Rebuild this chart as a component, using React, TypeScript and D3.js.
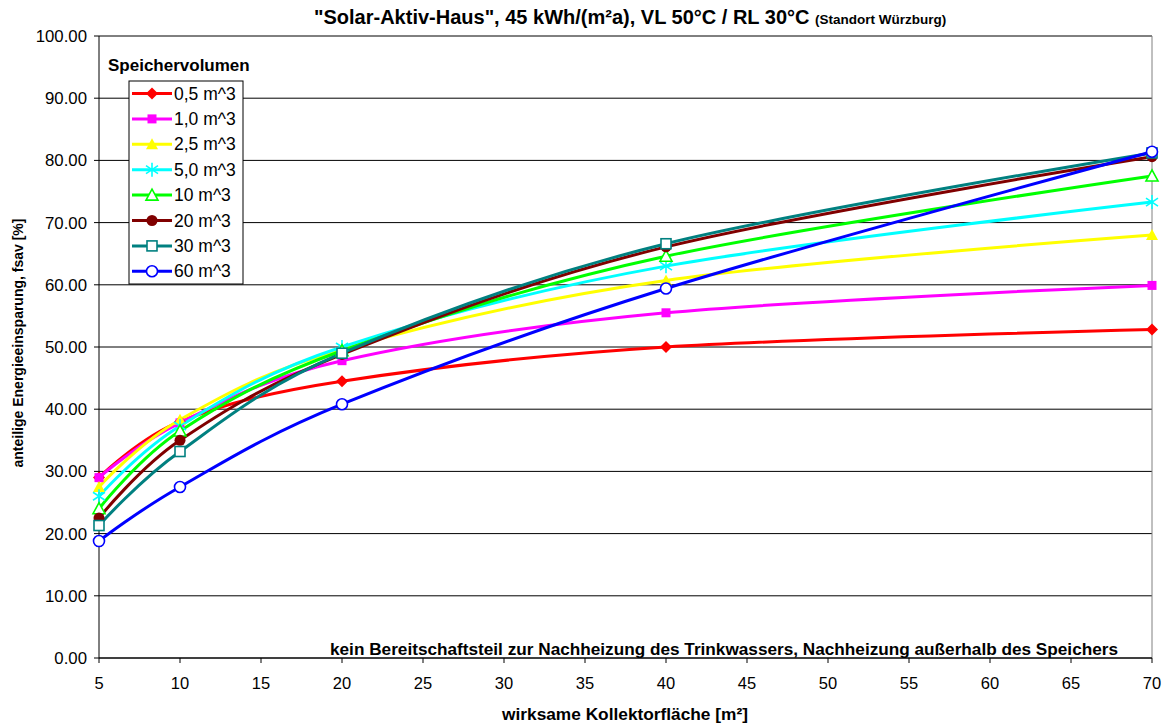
import React from "react";
import * as d3 from "d3";

const xValues = [5, 10, 20, 40, 70];
const seriesNames = ["0,5 m^3", "1,0 m^3", "2,5 m^3", "5,0 m^3", "10 m^3", "20 m^3", "30 m^3", "60 m^3"];
const s05 = [29.0, 38.0, 44.5, 50.0, 52.8];
const s10 = [29.0, 37.8, 47.8, 55.5, 59.9];
const s25 = [27.5, 38.3, 49.6, 60.7, 68.0];
const s50 = [26.0, 37.3, 50.0, 63.0, 73.3];
const s100 = [24.0, 36.5, 49.4, 64.6, 77.5];
const s200 = [22.5, 35.0, 48.8, 66.1, 80.6];
const s300 = [21.3, 33.2, 49.0, 66.6, 81.2];
const s600 = [18.8, 27.5, 40.8, 59.4, 81.4];
const seriesValues = [s05, s10, s25, s50, s100, s200, s300, s600];
const colors = ["#ff0000", "#ff00ff", "#ffff00", "#00ffff", "#00ff00", "#800000", "#008080", "#0000ff"];
const markers = ["diamond", "square", "triangle", "star", "triangleOpen", "circle", "squareOpen", "circleOpen"];
const xTicks = d3.range(5, 71, 5);
const yTicks = d3.range(0, 101, 10);

const L = 99, R = 1152, T = 36, B = 658;
const FONT = "'Liberation Sans', Arial, sans-serif";

function Marker({ type, x, y, color }: { type: string; x: number; y: number; color: string }) {
  switch (type) {
    case "diamond":
      return <path d={`M${x},${y - 6}L${x + 6},${y}L${x},${y + 6}L${x - 6},${y}Z`} fill={color} />;
    case "square":
      return <rect x={x - 4.5} y={y - 4.5} width={9} height={9} fill={color} />;
    case "triangle":
      return <path d={`M${x},${y - 6}L${x + 6},${y + 5}L${x - 6},${y + 5}Z`} fill={color} />;
    case "star":
      return (
        <g stroke={color} strokeWidth={1.6}>
          <line x1={x} y1={y - 7} x2={x} y2={y + 7} />
          <line x1={x - 6} y1={y - 4} x2={x + 6} y2={y + 4} />
          <line x1={x - 6} y1={y + 4} x2={x + 6} y2={y - 4} />
        </g>
      );
    case "triangleOpen":
      return <path d={`M${x},${y - 6}L${x + 6},${y + 5}L${x - 6},${y + 5}Z`} fill="white" stroke={color} strokeWidth={1.6} />;
    case "circle":
      return <circle cx={x} cy={y} r={5.5} fill={color} />;
    case "squareOpen":
      return <rect x={x - 5} y={y - 5} width={10} height={10} fill="white" stroke={color} strokeWidth={1.6} />;
    case "circleOpen":
      return <circle cx={x} cy={y} r={5.5} fill="white" stroke={color} strokeWidth={1.6} />;
  }
  return null;
}

export default function App() {
  const x = d3.scaleLinear().domain([5, 70]).range([L, R]);
  const y = d3.scaleLinear().domain([0, 100]).range([B, T]);
  const line = d3
    .line<number>()
    .x((_, i) => x(xValues[i]))
    .y((d) => y(d))
    .curve(d3.curveCardinal.tension(0));

  const legX = 129, legY = 81, legW = 114, legH = 203, legStep = 25.4;

  return (
    <svg width={1170} height={724} style={{ position: "absolute", left: 0, top: 0, fontFamily: FONT }}>
      <rect x={0} y={0} width={1170} height={724} fill="white" />
      {yTicks.map((t) => (
        <line key={t} x1={L} x2={R} y1={y(t)} y2={y(t)} stroke="#000" strokeWidth={1} />
      ))}
      <line x1={R} x2={R} y1={T} y2={B} stroke="#808080" strokeWidth={1} />
      <line x1={L} x2={L} y1={T} y2={B} stroke="#000" strokeWidth={1} />
      <line x1={L} x2={R} y1={B} y2={B} stroke="#000" strokeWidth={1} />
      {yTicks.map((t) => (
        <g key={"yt" + t}>
          <line x1={L - 5} x2={L} y1={y(t)} y2={y(t)} stroke="#000" />
          <text x={87} y={y(t) + 6} fontSize={16.8} textAnchor="end">
            {t.toFixed(2)}
          </text>
        </g>
      ))}
      {xTicks.map((t) => (
        <g key={"xt" + t}>
          <line x1={x(t)} x2={x(t)} y1={B} y2={B + 5} stroke="#000" />
          <text x={x(t)} y={689} fontSize={16.5} textAnchor="middle">
            {t}
          </text>
        </g>
      ))}
      <text x={330} y={655} fontSize={17.2} fontWeight="bold">
        kein Bereitschaftsteil zur Nachheizung des Trinkwassers, Nachheizung außerhalb des Speichers
      </text>
      {seriesValues.map((vals, si) => (
        <g key={si}>
          <path d={line(vals) || ""} fill="none" stroke={colors[si]} strokeWidth={3} />
        </g>
      ))}
      {seriesValues.map((vals, si) => (
        <g key={"m" + si}>
          {vals.map((v, i) => (
            <Marker key={i} type={markers[si]} x={x(xValues[i])} y={y(v)} color={colors[si]} />
          ))}
        </g>
      ))}
      <text x={314} y={24} fontSize={20} fontWeight="bold">
        "Solar-Aktiv-Haus", 45 kWh/(m²a), VL 50°C / RL 30°C{" "}
        <tspan fontSize={13.5}>(Standort Würzburg)</tspan>
      </text>
      <text x={625} y={720} fontSize={17.3} fontWeight="bold" textAnchor="middle">
        wirksame Kollektorfläche [m²]
      </text>
      <text transform={`translate(23,343) rotate(-90)`} fontSize={14} fontWeight="bold" textAnchor="middle">
        anteilige Energieeinsparung, fsav [%]
      </text>
      <text x={108} y={71} fontSize={17} fontWeight="bold">
        Speichervolumen
      </text>
      <rect x={legX} y={legY} width={legW} height={legH} fill="white" stroke="#000" strokeWidth={1} />
      {seriesNames.map((n, i) => {
        const cy = legY + 12.5 + i * legStep;
        return (
          <g key={n}>
            <line x1={legX + 3} x2={legX + 43} y1={cy} y2={cy} stroke={colors[i]} strokeWidth={3} />
            <Marker type={markers[i]} x={legX + 23} y={cy} color={colors[i]} />
            <text x={legX + 45} y={cy + 6} fontSize={17.5}>
              {n}
            </text>
          </g>
        );
      })}
    </svg>
  );
}
